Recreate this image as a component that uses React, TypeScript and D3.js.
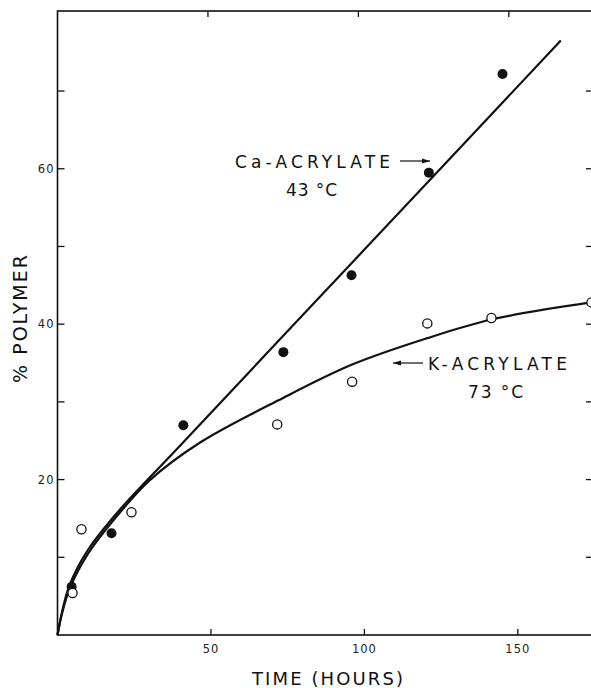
import React, { useEffect, useRef } from 'react';
import * as d3 from 'd3';

// Ca-acrylate 43 °C (filled points)
const caHours = [4.6, 17.6, 41, 73.6, 95.8, 121, 145];
const caPolymer = [6.2, 13.1, 27.0, 36.4, 46.3, 59.5, 72.2];

// K-acrylate 73 °C (open points)
const kHours = [4.9, 7.8, 24.1, 71.6, 96, 120.5, 141.4, 174];
const kPolymer = [5.4, 13.6, 15.8, 27.1, 32.6, 40.1, 40.8, 42.8];

// drawn curves
const caCurveX = [0, 1.5, 4, 10, 20, 40, 100, 164];
const caCurveY = [0, 3, 6.5, 11, 16, 24.4, 49.6, 76.5];
const kCurveX = [0, 1.5, 4, 10, 20, 30, 46.6, 72, 96, 120.5, 141.4, 174];
const kCurveY = [0, 2.8, 6, 10.5, 15.6, 19.9, 24.8, 30.2, 34.8, 38.2, 40.6, 42.8];

const xTicks = [50, 100, 150];
const yTicks = [10, 20, 30, 40, 50, 60, 70];
const yLabels = [20, 40, 60];

const App = () => {
  const svgRef = useRef(null);

  useEffect(() => {
    const svg = d3.select(svgRef.current);
    svg.selectAll('*').remove();

    const x = d3.scaleLinear().domain([0, 174]).range([57.5, 591.5]);
    const y = d3.scaleLinear().domain([0, 80.3]).range([635, 11]);
    const font = "'DejaVu Sans', sans-serif";

    // frame
    svg.append('rect')
      .attr('x', x(0)).attr('y', y(80.3))
      .attr('width', x(174) - x(0) + 2).attr('height', y(0) - y(80.3))
      .attr('fill', 'none').attr('stroke', '#111').attr('stroke-width', 1.6);

    // ticks pointing inward
    xTicks.forEach(t => {
      svg.append('line').attr('x1', x(t)).attr('x2', x(t))
        .attr('y1', y(0)).attr('y2', y(0) - 6)
        .attr('stroke', '#111').attr('stroke-width', 1.3);
      svg.append('line').attr('x1', x(t) - 3 * (t / 50)).attr('x2', x(t) - 3 * (t / 50))
        .attr('y1', y(80.3)).attr('y2', y(80.3) + 6)
        .attr('stroke', '#111').attr('stroke-width', 1.3);
      svg.append('text').attr('x', x(t)).attr('y', 653)
        .attr('text-anchor', 'middle').attr('font-family', font)
        .attr('font-size', 11.5).attr('letter-spacing', 1).attr('fill', '#222')
        .text(t);
    });
    yTicks.forEach(t => {
      svg.append('line').attr('x1', x(0)).attr('x2', x(0) + 7)
        .attr('y1', y(t)).attr('y2', y(t))
        .attr('stroke', '#111').attr('stroke-width', 1.3);
      svg.append('line').attr('x1', 586).attr('x2', 592)
        .attr('y1', y(t)).attr('y2', y(t))
        .attr('stroke', '#111').attr('stroke-width', 1.3);
    });
    yLabels.forEach(t => {
      svg.append('text').attr('x', x(0) - 3).attr('y', y(t) + 4)
        .attr('text-anchor', 'end').attr('font-family', font)
        .attr('font-size', 11.5).attr('letter-spacing', 1).attr('fill', '#222')
        .text(t);
    });

    // curves
    const line = d3.line().x(d => x(d[0])).y(d => y(d[1])).curve(d3.curveCatmullRom.alpha(0.5));
    svg.append('path')
      .attr('d', line(caCurveX.map((v, i) => [v, caCurveY[i]])))
      .attr('fill', 'none').attr('stroke', '#111').attr('stroke-width', 2.2);
    svg.append('path')
      .attr('d', line(kCurveX.map((v, i) => [v, kCurveY[i]])))
      .attr('fill', 'none').attr('stroke', '#111').attr('stroke-width', 2.2);

    // points
    svg.selectAll('.ca').data(caHours).enter().append('circle')
      .attr('cx', d => x(d)).attr('cy', (d, i) => y(caPolymer[i]))
      .attr('r', 5).attr('fill', '#111');
    svg.selectAll('.k').data(kHours).enter().append('circle')
      .attr('cx', d => x(d)).attr('cy', (d, i) => y(kPolymer[i]))
      .attr('r', 4.6).attr('fill', '#fff').attr('stroke', '#111').attr('stroke-width', 1.3);

    // annotations
    const label = (tx, ty, s, len) =>
      svg.append('text').attr('x', tx).attr('y', ty)
        .attr('font-family', font).attr('font-size', 17)
        .attr('textLength', len).attr('lengthAdjust', 'spacing')
        .attr('fill', '#111').text(s);
    const arrow = (x1, x2, yy) => {
      svg.append('line').attr('x1', x1).attr('x2', x2).attr('y1', yy).attr('y2', yy)
        .attr('stroke', '#111').attr('stroke-width', 1.2);
      const dir = x2 > x1 ? 1 : -1;
      svg.append('path')
        .attr('d', `M${x2},${yy} L${x2 - dir * 8},${yy - 2.5} L${x2 - dir * 8},${yy + 2.5} Z`)
        .attr('fill', '#111');
    };
    label(235, 168, 'Ca-ACRYLATE', 155);
    arrow(400, 430, 161);
    label(286, 196, '43 °C', 51);
    arrow(423, 393, 363);
    label(428, 370, 'K-ACRYLATE', 139);
    label(468, 398, '73 °C', 55);

    // axis titles
    svg.append('text').attr('x', 252).attr('y', 685)
      .attr('font-family', font).attr('font-size', 18)
      .attr('textLength', 151).attr('lengthAdjust', 'spacing')
      .attr('fill', '#111').text('TIME (HOURS)');
    svg.append('text').attr('transform', 'translate(27,318) rotate(-90)')
      .attr('text-anchor', 'middle').attr('font-family', font).attr('font-size', 19)
      .attr('letter-spacing', 2).attr('fill', '#111').text('% POLYMER');
  }, []);

  return (
    <svg ref={svgRef} width={591} height={688}
      style={{ position: 'absolute', left: 0, top: 0, background: '#fff' }} />
  );
};

export default App;
